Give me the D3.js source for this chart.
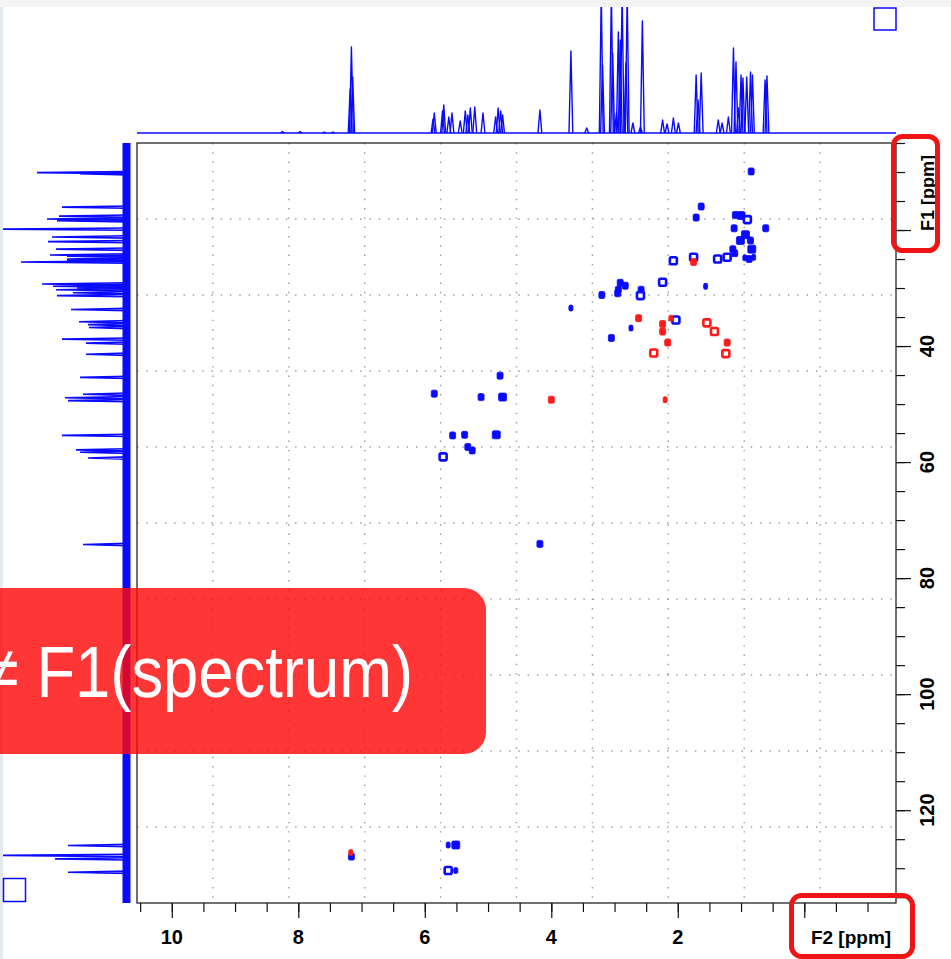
<!DOCTYPE html>
<html>
<head>
<meta charset="utf-8">
<script src="https://cdn.jsdelivr.net/npm/d3@7"></script>
<style>
body { margin: 0; background: #fff; }
svg { display: block; }
</style>
</head>
<body>
<div class="container"></div>
<script>
// 1H projection (F2) peaks: [ppm, height]
const protonPeaks = [
  [8.25, 1.5], [7.97, 1.5], [7.59, 1], [7.45, 1],
  [7.18, 44], [7.16, 86], [7.14, 56],
  [5.87, 14], [5.85, 20], [5.72, 22], [5.70, 28], [5.62, 16], [5.57, 20],
  [5.44, 12], [5.36, 22], [5.32, 18], [5.28, 25], [5.21, 26],
  [5.08, 20], [4.88, 16], [4.84, 25], [4.80, 22], [4.77, 18],
  [4.18, 23], [3.69, 82], [3.44, 5],
  [3.21, 140], [3.19, 68], [3.05, 140], [3.03, 80], [2.97, 20],
  [2.94, 101], [2.91, 93], [2.88, 140], [2.82, 70], [2.80, 140],
  [2.71, 10], [2.59, 6], [2.56, 112],
  [2.24, 13], [2.17, 9], [2.07, 15], [1.99, 10],
  [1.71, 58], [1.68, 33], [1.63, 60],
  [1.36, 13], [1.30, 10], [1.20, 16],
  [1.12, 85], [1.08, 71], [1.04, 25], [1.00, 58], [0.97, 55],
  [0.91, 56], [0.85, 61], [0.82, 58], [0.62, 53], [0.59, 57]
];

// 13C projection (F1) peaks: [ppm, height]
const carbonPeaks = [
  [10.1, 90], [10.3, 47], [16.05, 65], [17.6, 68], [18.1, 80], [18.4, 70],
  [19.85, 126], [21.2, 75], [22.0, 79], [23.3, 71], [24.3, 77],
  [24.5, 60], [25.0, 60], [25.2, 60], [25.5, 106],
  [29.3, 85], [29.5, 50], [29.7, 74], [30.0, 50], [30.3, 71], [30.8, 54], [31.3, 70],
  [33.7, 56], [35.8, 48], [36.3, 39], [36.8, 38], [38.8, 65], [39.5, 41],
  [41.4, 41], [45.4, 47], [48.3, 44], [48.9, 62], [49.4, 59],
  [55.4, 65], [57.9, 51], [58.3, 47], [59.3, 39], [74.2, 44],
  [126.1, 59], [127.8, 126], [128.4, 72], [130.7, 59]
];

// cross peaks: [F2 ppm, F1 ppm, contour level]
const positivePeaks = [
  [0.84, 9.9, 2], [1.63, 15.95, 2], [1.71, 17.85, 2], [1.09, 17.4, 2],
  [1.00, 17.5, 3], [0.90, 18.2, 1], [1.11, 19.7, 2], [0.61, 19.7, 2],
  [0.93, 20.8, 3], [1.01, 21.8, 3], [0.85, 21.8, 2], [0.83, 23.3, 3],
  [1.13, 23.3, 2], [1.10, 24.0, 2], [1.22, 24.7, 1], [1.37, 25.0, 1],
  [0.94, 24.8, 0], [0.87, 25.0, 2], [0.80, 24.7, 0], [1.75, 24.7, 1],
  [2.07, 25.3, 1], [1.56, 29.7, 0], [2.24, 29.0, 1], [2.91, 29.1, 2],
  [2.83, 29.6, 2], [2.94, 30.3, 2], [2.95, 30.9, 2], [2.58, 30.3, 2],
  [2.59, 31.3, 1], [3.20, 31.2, 2], [3.69, 33.45, 0], [3.05, 38.6, 2],
  [2.74, 36.9, 0], [2.03, 35.5, 1], [4.81, 45.1, 2], [5.85, 48.2, 2],
  [5.11, 48.8, 2], [4.77, 48.8, 3], [5.56, 55.4, 2], [5.37, 55.3, 2],
  [4.87, 55.3, 3], [5.32, 57.4, 2], [5.25, 58.0, 2], [5.71, 59.1, 1],
  [4.18, 74.1, 2], [7.16, 128.0, 2], [5.63, 126.0, 0], [5.51, 126.0, 3],
  [5.63, 130.4, 1], [5.51, 130.4, 0]
];
const negativePeaks = [
  [1.75, 25.5, 2], [2.62, 35.2, 2], [2.24, 36.2, 2], [2.24, 37.5, 2],
  [2.11, 35.2, 0], [2.16, 39.4, 2], [2.38, 41.2, 1], [1.54, 36.0, 1],
  [1.42, 37.5, 1], [1.22, 39.4, 2], [1.24, 41.3, 1], [4.00, 49.25, 2],
  [2.20, 49.25, 0], [7.17, 127.3, 0]
];

const f2TickLabels = [10, 8, 6, 4, 2];
const f1TickLabels = [40, 60, 80, 100, 120];
const f2Title = "F2 [ppm]";
const f1Title = "F1 [ppm]";
const overlayText = "\u2260 F1(spectrum)";

const W = 951, H = 959;
const frame = {left: 137, top: 143, right: 896, bottom: 903};
const blue = "#0a0aff", red = "#ff1a1a";

const svg = d3.select(".container").append("svg")
  .attr("width", W).attr("height", H)
  .attr("font-family", "'Liberation Sans', Arial, sans-serif");

const x = d3.scaleLinear().domain([10.55, -1.45]).range([frame.left, frame.right]);
const y = d3.scaleLinear().domain([5, 136]).range([frame.top, frame.bottom]);
const hTop = d3.scaleLinear().domain([0, 126]).range([133, 7]);
const hLeft = d3.scaleLinear().domain([0, 125]).range([127, 2]);

// window chrome strips
svg.append("rect").attr("x", 0).attr("y", 0).attr("width", W).attr("height", 7).attr("fill", "#f4f4f4");
svg.append("rect").attr("x", 0).attr("y", 7).attr("width", 3).attr("height", H - 7).attr("fill", "#e4eaf1");

svg.append("clipPath").attr("id", "clipTop")
  .append("rect").attr("x", frame.left).attr("y", 7).attr("width", frame.right - frame.left + 1).attr("height", 130);
svg.append("clipPath").attr("id", "clipLeft")
  .append("rect").attr("x", 3).attr("y", frame.top).attr("width", 132).attr("height", frame.bottom - frame.top);

// grid (10 divisions each way)
const gx = d3.scaleLinear().domain([0, 10]).range([frame.left, frame.right]);
const gy = d3.scaleLinear().domain([0, 10]).range([frame.top, frame.bottom]);
const grid = svg.append("g").attr("stroke", "#9a9a9a").attr("stroke-width", 1.4)
  .attr("stroke-dasharray", "1.4,7.9");
grid.selectAll(".gv").data(d3.range(1, 10)).join("line")
  .attr("x1", d => gx(d)).attr("x2", d => gx(d))
  .attr("y1", frame.top).attr("y2", frame.bottom);
grid.selectAll(".gh").data(d3.range(1, 10)).join("line")
  .attr("y1", d => gy(d)).attr("y2", d => gy(d))
  .attr("x1", frame.left).attr("x2", frame.right);

// 1D projections
const spike = d3.line();
const topG = svg.append("g").attr("clip-path", "url(#clipTop)")
  .attr("fill", "none").attr("stroke", blue).attr("stroke-width", 1.4).attr("stroke-linejoin", "round");
topG.append("line").attr("x1", frame.left).attr("x2", frame.right)
  .attr("y1", hTop(0)).attr("y2", hTop(0));
topG.selectAll("path").data(protonPeaks).join("path")
  .attr("d", d => spike([[x(d[0] + 0.03), hTop(0)], [x(d[0]), hTop(d[1])], [x(d[0] - 0.03), hTop(0)]]));

const leftG = svg.append("g").attr("clip-path", "url(#clipLeft)")
  .attr("fill", "none").attr("stroke", blue).attr("stroke-width", 1.6);
leftG.append("line").attr("x1", hLeft(0) - 0.5).attr("x2", hLeft(0) - 0.5)
  .attr("y1", frame.top).attr("y2", frame.bottom).attr("stroke-width", 8);
leftG.selectAll("path").data(carbonPeaks).join("path")
  .attr("d", d => spike([[hLeft(0), y(d[0] - 0.2)], [hLeft(d[1]), y(d[0])], [hLeft(0), y(d[0] + 0.2)]]));

// cross peaks
function drawPeaks(data, color) {
  const size = [[4, 6], [7, 7], [6, 7], [8, 8]];
  svg.append("g").selectAll("rect").data(data).join("rect")
    .attr("x", d => x(d[0]) - size[d[2]][0] / 2)
    .attr("y", d => y(d[1]) - size[d[2]][1] / 2)
    .attr("width", d => size[d[2]][0])
    .attr("height", d => size[d[2]][1])
    .attr("rx", 1.5)
    .attr("fill", d => d[2] === 1 ? "#fff" : color)
    .attr("stroke", color)
    .attr("stroke-width", d => d[2] === 1 ? 2.6 : 0.8);
}
drawPeaks(positivePeaks, blue);
drawPeaks(negativePeaks, red);

// frame
svg.append("rect").attr("x", frame.left).attr("y", frame.top)
  .attr("width", frame.right - frame.left).attr("height", frame.bottom - frame.top)
  .attr("fill", "none").attr("stroke", "#111").attr("stroke-width", 1.2);

// axes
const f2Minor = d3.range(-2, 22).map(i => i * 0.5).filter(v => v <= 10.55 && v >= -1.45);
const f2Major = d3.range(0, 11, 2);
svg.append("g").attr("transform", `translate(0,${frame.bottom})`)
  .call(d3.axisBottom(x).tickValues(f2Minor).tickSize(9).tickFormat(""))
  .call(g => g.select(".domain").remove());
svg.append("g").attr("transform", `translate(0,${frame.bottom})`)
  .call(d3.axisBottom(x).tickValues(f2Major).tickSize(15).tickFormat(""))
  .call(g => g.select(".domain").remove());
svg.selectAll(".tick line").attr("stroke", "#111").attr("stroke-width", 1.2);

svg.append("g").selectAll("text").data(f2TickLabels).join("text")
  .attr("x", d => x(d)).attr("y", 944)
  .attr("text-anchor", "middle").attr("font-size", 20).attr("font-weight", "bold")
  .text(d => d);
svg.append("text").attr("x", 851).attr("y", 944)
  .attr("text-anchor", "middle").attr("font-size", 19).attr("font-weight", "bold")
  .text(f2Title);

const f1Minor = d3.range(1, 28).map(i => i * 5).filter(v => v >= 5 && v <= 136);
const f1Major = d3.range(20, 140, 20);
svg.append("g").attr("transform", `translate(${frame.right},0)`)
  .call(d3.axisRight(y).tickValues(f1Minor).tickSize(9).tickFormat(""))
  .call(g => g.select(".domain").remove())
  .selectAll(".tick line").attr("stroke", "#111").attr("stroke-width", 1.2);
svg.append("g").attr("transform", `translate(${frame.right},0)`)
  .call(d3.axisRight(y).tickValues(f1Major).tickSize(15).tickFormat(""))
  .call(g => g.select(".domain").remove())
  .selectAll(".tick line").attr("stroke", "#111").attr("stroke-width", 1.2);

svg.append("g").selectAll("text").data(f1TickLabels).join("text")
  .attr("transform", d => `translate(934,${y(d)}) rotate(-90)`)
  .attr("text-anchor", "middle").attr("font-size", 20).attr("font-weight", "bold")
  .text(d => d);
svg.append("text").attr("transform", "translate(934,193) rotate(-90)")
  .attr("text-anchor", "middle").attr("font-size", 18).attr("font-weight", "bold")
  .text(f1Title);

// small blue squares of the viewer
svg.append("rect").attr("x", 874).attr("y", 8).attr("width", 22).attr("height", 22)
  .attr("fill", "none").attr("stroke", blue).attr("stroke-width", 1.5);
svg.append("rect").attr("x", 3.5).attr("y", 878.5).attr("width", 22).attr("height", 23)
  .attr("fill", "none").attr("stroke", blue).attr("stroke-width", 1.5);

// highlight boxes
svg.append("rect").attr("x", 893.5).attr("y", 136.5).attr("width", 44).attr("height", 114).attr("rx", 9)
  .attr("fill", "none").attr("stroke", "#f01414").attr("stroke-width", 5);
svg.append("rect").attr("x", 791.5).attr("y", 895.5).attr("width", 121).attr("height", 61).attr("rx", 10)
  .attr("fill", "none").attr("stroke", "#f01414").attr("stroke-width", 5);

// overlay banner
svg.append("rect").attr("x", -40).attr("y", 588).attr("width", 526).attr("height", 166).attr("rx", 22)
  .attr("fill", "#ff0a0a").attr("fill-opacity", 0.82);
svg.append("text")
  .attr("transform", "translate(413,697) scale(0.88,1)")
  .attr("text-anchor", "end").attr("font-size", 72).attr("fill", "#fff")
  .text(overlayText);
</script>
</body>
</html>
